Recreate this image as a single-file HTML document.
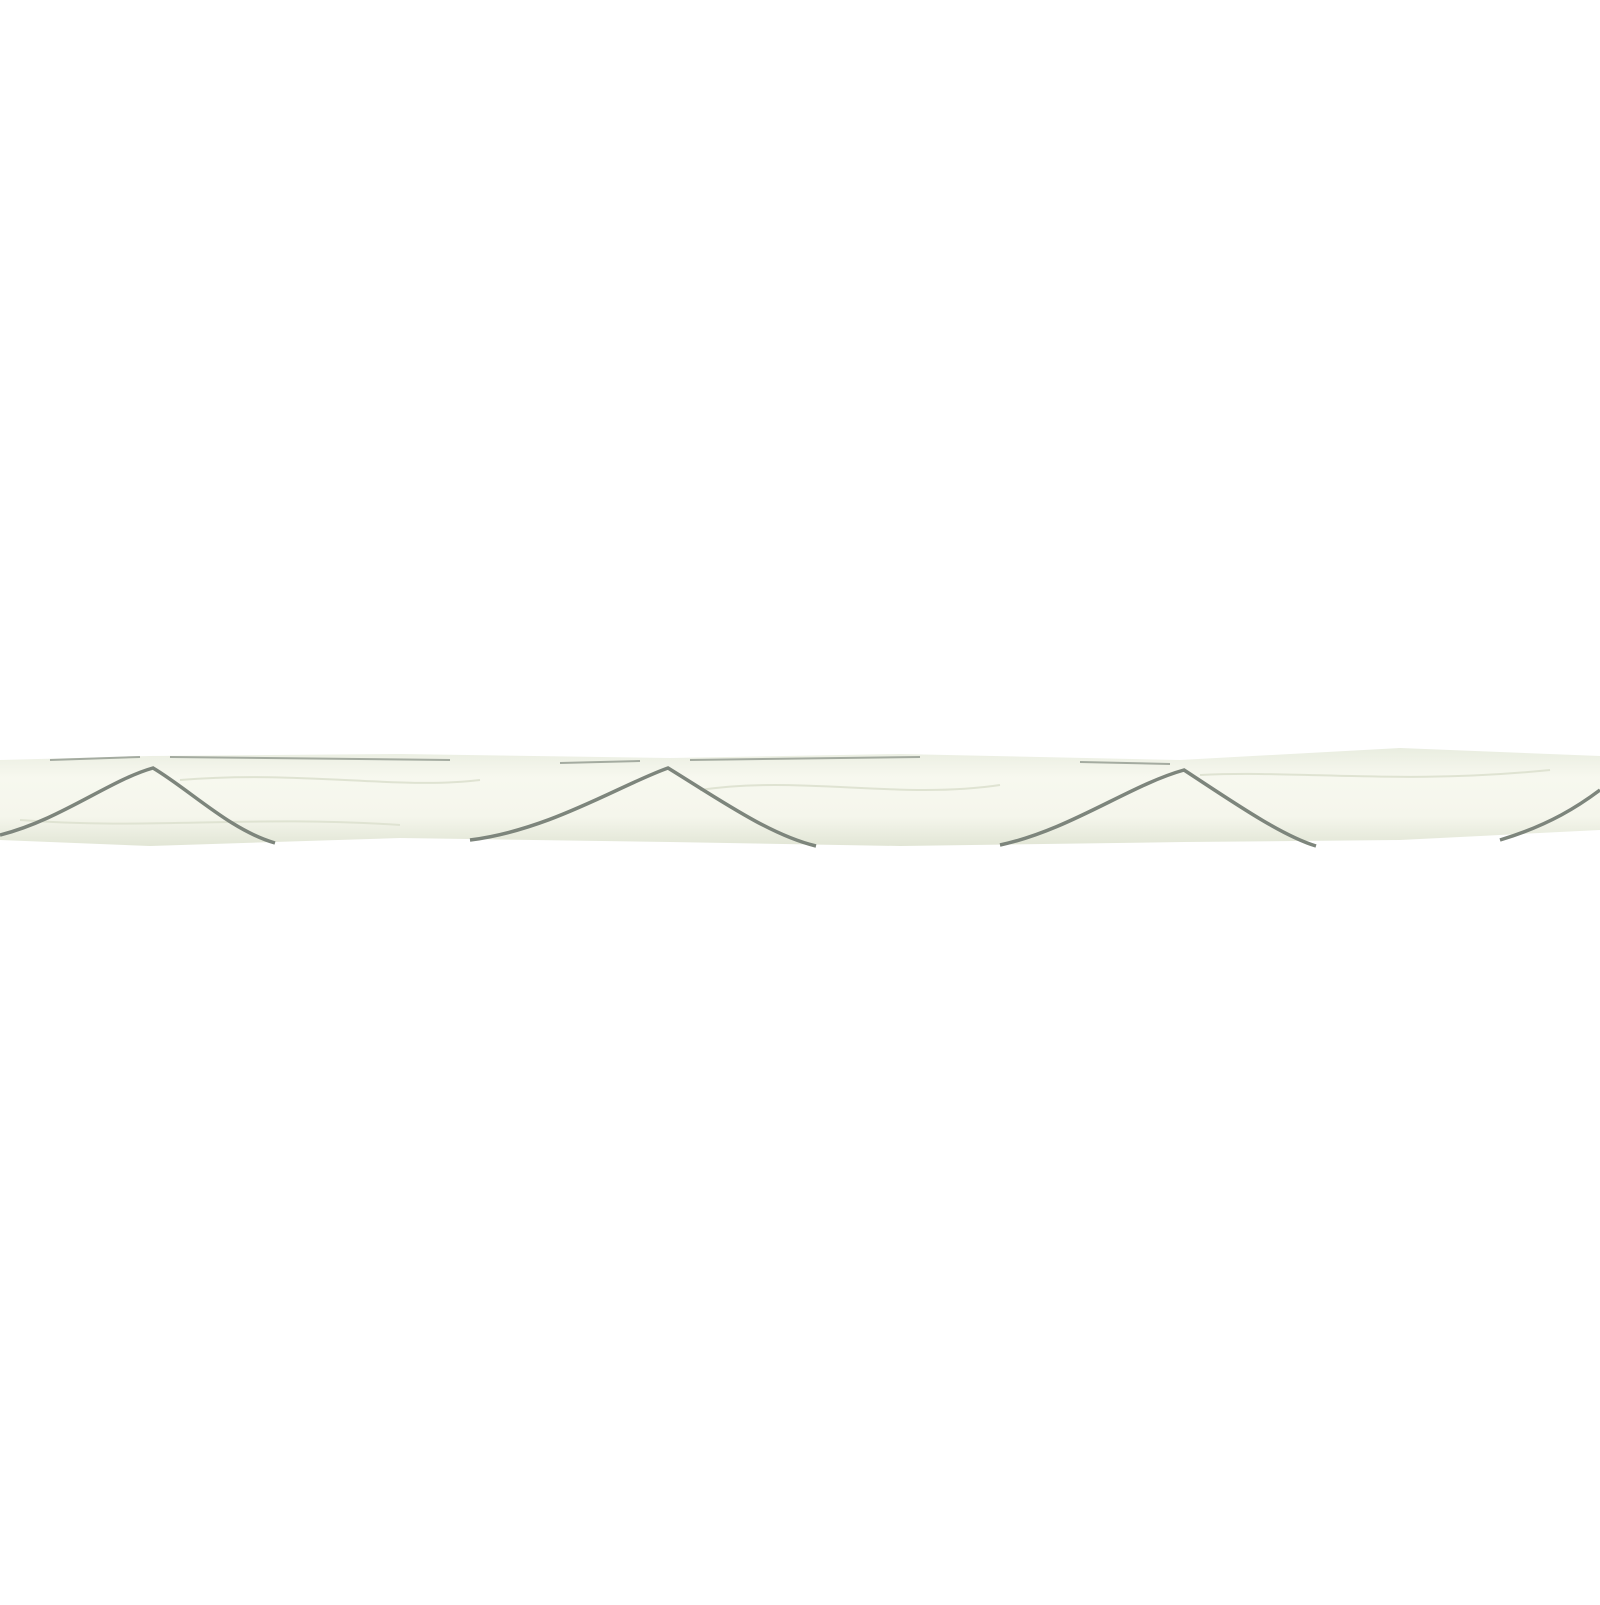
<!DOCTYPE html>
<html><head><style>html,body{margin:0;padding:0;background:#fff}</style></head>
<body>
<svg width="1600" height="1600" viewBox="0 0 1600 1600" xmlns="http://www.w3.org/2000/svg">
<rect width="1600" height="1600" fill="#fff"/>
<defs>
<linearGradient id="g" x1="0" y1="0" x2="0" y2="1">
<stop offset="0" stop-color="#e9ede0"/>
<stop offset="0.3" stop-color="#f7f8ef"/>
<stop offset="0.7" stop-color="#f5f6ec"/>
<stop offset="1" stop-color="#e2e6d6"/>
</linearGradient>
</defs>
<path d="M0 760 L150 756 L400 754 L670 758 L900 754 L1180 760 L1400 748 L1600 756 L1600 830 L1400 840 L1184 842 L900 846 L670 842 L400 838 L150 846 L0 840 Z" fill="url(#g)"/>
<g fill="none" stroke="#dfe3d2" stroke-width="2">
<path d="M180 780 C300 770 400 790 480 780"/>
<path d="M700 790 C800 775 900 800 1000 785"/>
<path d="M1200 775 C1300 770 1400 785 1550 770"/>
<path d="M20 820 C150 830 250 815 400 825"/>
</g>
<g fill="none" stroke="#7d857c" stroke-width="3.5">
<path d="M0 835 C60 820 110 780 153 768 C190 790 230 830 275 843"/>
<path d="M470 840 C550 830 620 785 668 768 C720 800 770 835 816 846"/>
<path d="M1000 845 C1070 830 1130 785 1184 770 C1230 800 1280 835 1316 846"/>
<path d="M1500 840 C1550 825 1580 805 1600 790"/>
<path d="M50 760 L140 757 M170 757 L450 760 M560 763 L640 761 M690 760 L920 757 M1080 762 L1170 764" stroke="#a4aba0" stroke-width="2"/>
</g>
</svg>
</body></html>
